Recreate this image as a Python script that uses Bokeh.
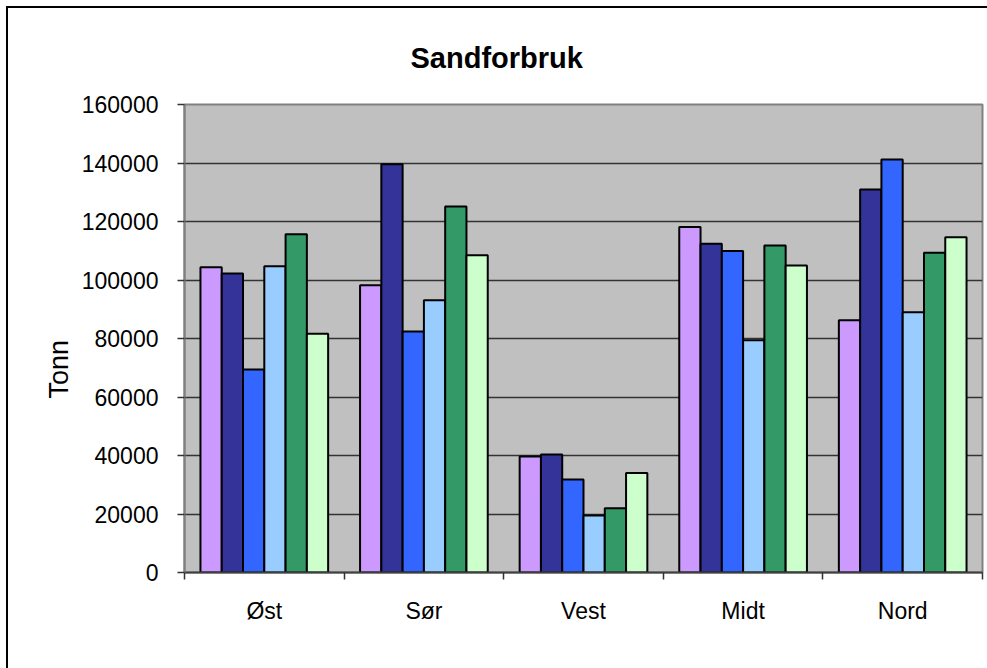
import numpy as np
from bokeh.plotting import figure
from bokeh.models import (ColumnDataSource, Range1d, FixedTicker, NumeralTickFormatter, Title)
from bokeh.embed import file_html
from bokeh.resources import INLINE

# ---- data ----
categories = ["Øst", "Sør", "Vest", "Midt", "Nord"]
serie1 = [104400, 98200, 39700, 118100, 86200]
serie2 = [102200, 139600, 40300, 112400, 130900]
serie3 = [69400, 82400, 31800, 109900, 141200]
serie4 = [104700, 93100, 19500, 79400, 89000]
serie5 = [115600, 125100, 22000, 111800, 109300]
serie6 = [81600, 108500, 34000, 105000, 114600]
y_ticks = [0, 20000, 40000, 60000, 80000, 100000, 120000, 140000, 160000]
title_text = "Sandforbruk"
y_title = "Tonn"

series = [serie1, serie2, serie3, serie4, serie5, serie6]
colors = ["#CC99FF", "#333399", "#3366FF", "#99CCFF", "#339966", "#CCFFCC"]

FONT = "Liberation Sans"

n = len(categories)
centers = np.arange(n) + 0.5
bar_w = 1 / 7.5

p = figure(width=987, height=668, output_backend="svg", toolbar_location=None,
           x_range=Range1d(0, n), y_range=Range1d(y_ticks[0], y_ticks[-1]),
           min_border_left=184, min_border_right=5, min_border_top=104, min_border_bottom=96,
           title=None)

p.background_fill_color = "#C0C0C0"
p.border_fill_color = None
p.outline_line_color = "#808080"
p.outline_line_width = 2
p.styles = {"box-shadow": "inset 6px 6px 0 0 white, inset 8px 8px 0 0 black",
            "background-color": "white"}

for j, (vals, col) in enumerate(zip(series, colors)):
    src = ColumnDataSource(dict(x=centers + (j - 2.5) * bar_w, top=vals))
    p.vbar(x="x", top="top", bottom=0, width=bar_w, source=src,
           fill_color=col, line_color="black", line_width=2)

# grids
p.xgrid.visible = False
p.ygrid.ticker = FixedTicker(ticks=y_ticks)
p.ygrid.grid_line_color = "#333333"
p.ygrid.grid_line_width = 1.5

# y axis
ya = p.yaxis[0]
ya.ticker = FixedTicker(ticks=y_ticks)
ya.formatter = NumeralTickFormatter(format="0")
ya.axis_line_color = "#808080"
ya.axis_line_width = 2
ya.major_tick_line_color = "#333333"
ya.major_tick_line_width = 1.5
ya.major_tick_out = 7
ya.major_tick_in = 0
ya.minor_tick_line_color = None
ya.major_label_standoff = 19
ya.major_label_text_font = FONT
ya.major_label_text_font_size = "23px"
ya.major_label_text_color = "black"

# x axis
xa = p.xaxis[0]
xa.ticker = FixedTicker(ticks=list(centers), minor_ticks=list(np.arange(n + 1)))
xa.major_label_overrides = {float(c): lab for c, lab in zip(centers, categories)}
xa.axis_line_color = "#404040"
xa.axis_line_width = 2
xa.major_tick_out = 0
xa.major_tick_in = 0
xa.major_tick_line_color = None
xa.minor_tick_out = 7
xa.minor_tick_in = 0
xa.minor_tick_line_color = "#333333"
xa.minor_tick_line_width = 1.5
xa.major_label_standoff = 18
xa.major_label_text_font = FONT
xa.major_label_text_font_size = "23px"
xa.major_label_text_color = "black"

# titles
p.add_layout(Title(text=title_text, align="left", offset=226, standoff=62, vertical_align="bottom",
                   text_font=FONT, text_font_size="29px", text_font_style="bold",
                   text_color="black"), "above")
p.add_layout(Title(text=y_title, align="left", offset=174, standoff=10, vertical_align="bottom",
                   text_font=FONT, text_font_size="27px", text_font_style="normal",
                   text_color="black"), "left")

open("out.html", "w").write(file_html(p, INLINE))
